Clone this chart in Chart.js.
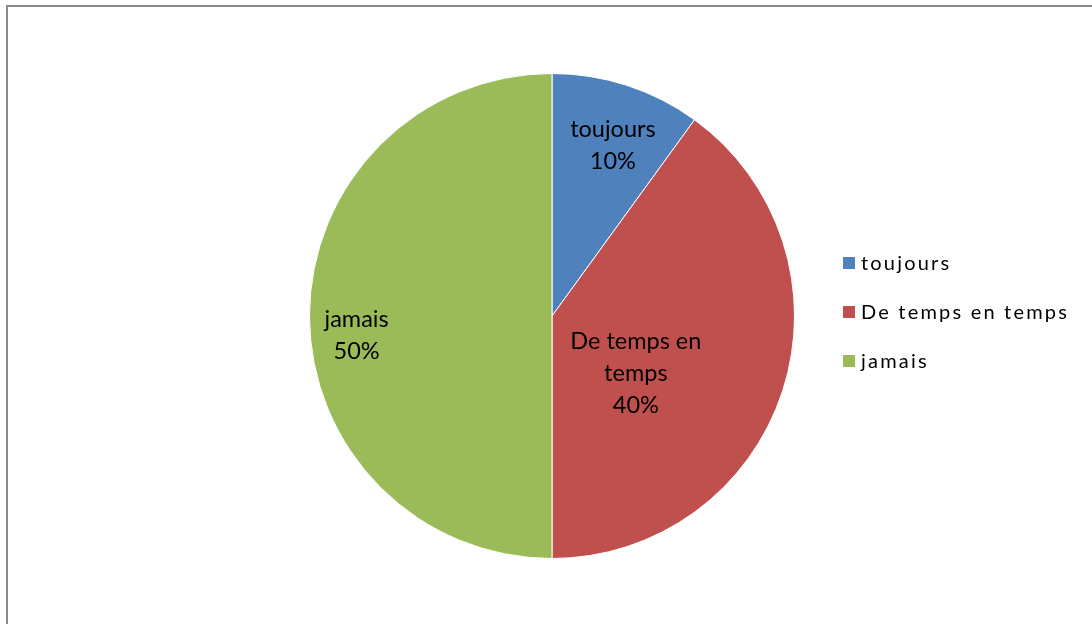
<!DOCTYPE html>
<html>
<head>
<meta charset="utf-8">
<script src="https://cdn.jsdelivr.net/npm/chart.js@4.4.0/dist/chart.umd.min.js"></script>
<style>
  html, body { margin: 0; padding: 0; background: #fff; }
  body { width: 1092px; height: 624px; overflow: hidden; position: relative; }
  #frame { position: absolute; left: 6px; top: 5px; width: 1100px; height: 700px;
           border-left: 2px solid #8a8a8a; border-top: 2px solid #8a8a8a; }
  #wrap { position: absolute; left: 0; top: 0; width: 1092px; height: 624px; }
</style>
</head>
<body>
<div id="frame"></div>
<div id="wrap"><canvas id="c" width="1092" height="624"></canvas></div>
<script>
const categories = ["toujours", "De temps en temps", "jamais"];
const values = [10, 40, 50];
const sliceLabels = [["toujours", "10%"], ["De temps en", "temps", "40%"], ["jamais", "50%"]];
const colors = ["#4F81BD", "#C0504D", "#9BBB59"];
// label anchor: [angle from top in degrees, fraction of radius]
const labelPlace = [[19.7, 0.745], [124.6, 0.42], [264.2, 0.81]];

const labelPlugin = {
  id: 'sliceLabels',
  afterDatasetsDraw(chart) {
    const ctx = chart.ctx;
    const meta = chart.getDatasetMeta(0);
    ctx.save();
    ctx.font = '23.5px Lato, "Open Sans", sans-serif';
    ctx.fillStyle = '#000';
    ctx.textAlign = 'center';
    ctx.textBaseline = 'middle';
    const lh = 32;
    meta.data.forEach((arc, i) => {
      const p = arc.getProps(['x', 'y', 'outerRadius'], true);
      const a = labelPlace[i][0] * Math.PI / 180;
      const r = labelPlace[i][1] * p.outerRadius;
      const cx = p.x + r * Math.sin(a);
      const cy = p.y - r * Math.cos(a);
      const lines = sliceLabels[i];
      const y0 = cy - (lines.length - 1) * lh / 2;
      lines.forEach((t, k) => ctx.fillText(t, cx, y0 + k * lh));
    });
    ctx.restore();
  }
};

const legendPlugin = {
  id: 'sideLegend',
  afterDraw(chart) {
    const ctx = chart.ctx;
    const area = chart.chartArea;
    ctx.save();
    ctx.font = '20px Lato, "Open Sans", sans-serif';
    try { ctx.letterSpacing = '2.2px'; } catch (e) {}
    ctx.textAlign = 'left';
    ctx.textBaseline = 'middle';
    const x = area.right + 48;
    const ys = chart.data.labels.map((_, i) => (area.top + area.bottom) / 2 - 53 + i * 49);
    chart.data.labels.forEach((lab, i) => {
      ctx.fillStyle = chart.data.datasets[0].backgroundColor[i];
      ctx.fillRect(x, ys[i] - 6, 12, 12);
      ctx.fillStyle = '#000';
      ctx.fillText(lab, x + 18, ys[i] + 1);
    });
    ctx.restore();
  }
};

new Chart(document.getElementById('c'), {
  type: 'pie',
  data: {
    labels: categories,
    datasets: [{
      data: values,
      backgroundColor: colors,
      borderColor: '#ffffff',
      borderWidth: 1
    }]
  },
  options: {
    responsive: false,
    animation: false,
    layout: { padding: { left: 309, right: 297, top: 73, bottom: 65 } },
    plugins: { legend: { display: false }, tooltip: { enabled: false } }
  },
  plugins: [labelPlugin, legendPlugin]
});
</script>
</body>
</html>
